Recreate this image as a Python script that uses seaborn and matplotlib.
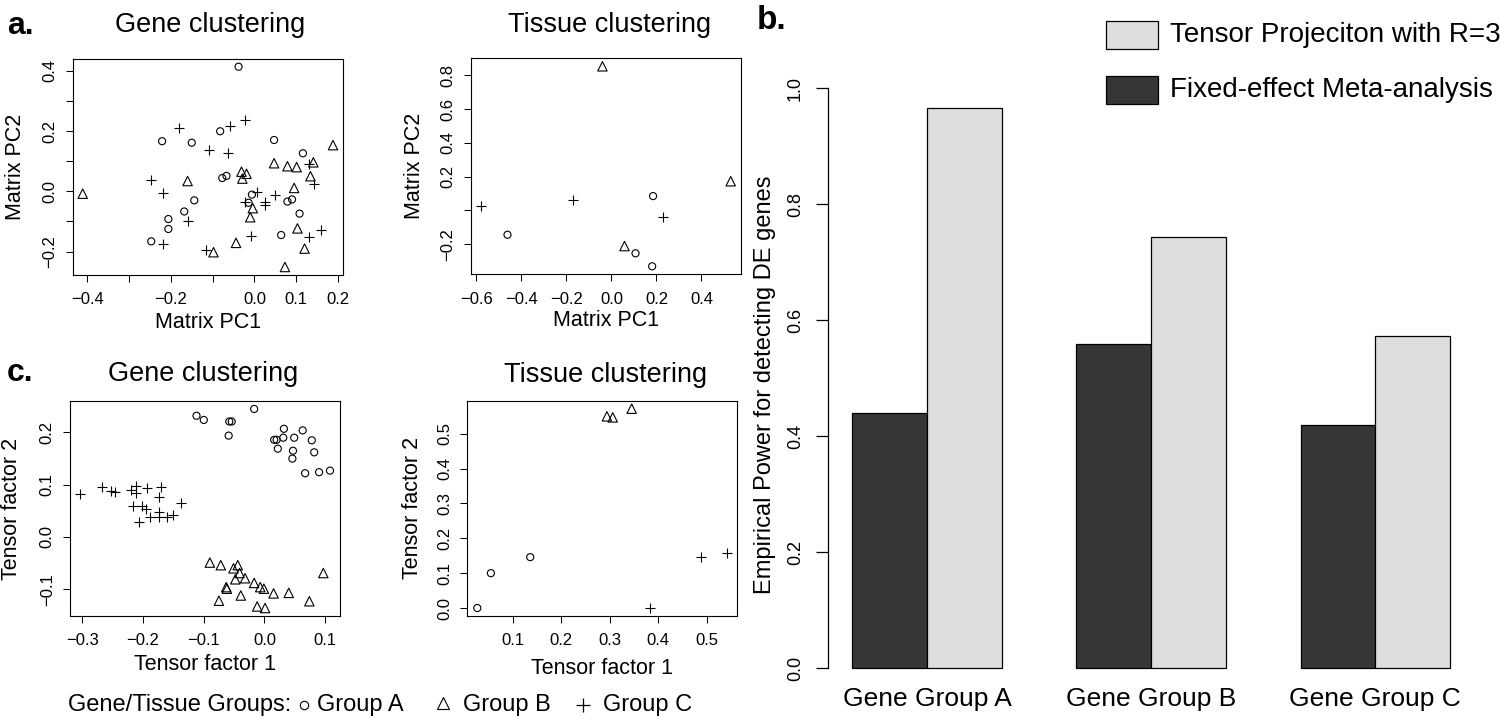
import numpy as np
import pandas as pd
import matplotlib
matplotlib.use("Agg")
import matplotlib.pyplot as plt
import seaborn as sns
from matplotlib.patches import Rectangle

# ---------------- data ----------------
# Panel a: matrix PCA, gene clustering
geneA_pc1 = [-0.038, -0.221, -0.150, -0.082, 0.047, 0.116, -0.077, -0.067, -0.144, -0.168,
             -0.206, -0.206, -0.247, -0.006, -0.014, 0.079, 0.090, 0.108, 0.064]
geneA_pc2 = [0.413, 0.166, 0.161, 0.199, 0.170, 0.126, 0.044, 0.051, -0.030, -0.067,
             -0.092, -0.125, -0.166, -0.011, -0.038, -0.034, -0.027, -0.074, -0.145]
geneB_pc1 = [-0.411, -0.160, -0.031, -0.029, -0.019, 0.047, 0.079, 0.101, 0.141, 0.134,
             0.095, 0.188, -0.010, -0.004, -0.044, -0.098, 0.073, 0.103, 0.120]
geneB_pc2 = [-0.008, 0.034, 0.065, 0.042, 0.058, 0.093, 0.083, 0.080, 0.096, 0.050,
             0.011, 0.153, -0.086, -0.056, -0.171, -0.202, -0.251, -0.123, -0.190]
geneC_pc1 = [-0.181, -0.058, -0.022, -0.109, -0.064, -0.248, -0.219, -0.158, -0.219, -0.117,
             -0.008, 0.007, -0.023, 0.025, 0.026, 0.049, 0.130, 0.142, 0.130, 0.160]
geneC_pc2 = [0.210, 0.215, 0.235, 0.137, 0.126, 0.037, -0.007, -0.097, -0.174, -0.194,
             -0.149, -0.002, -0.034, -0.035, -0.046, -0.011, 0.089, 0.025, -0.152, -0.130]

# Panel a: matrix PCA, tissue clustering
tissA_pc1 = [-0.462, 0.185, 0.107, 0.181]
tissA_pc2 = [-0.144, 0.085, -0.254, -0.331]
tissB_pc1 = [-0.040, 0.058, 0.530]
tissB_pc2 = [0.854, -0.211, 0.173]
tissC_pc1 = [-0.581, -0.173, 0.228]
tissC_pc2 = [0.028, 0.061, -0.039]

# Panel c: tensor factors, gene clustering
geneA_tf1 = [-0.112, -0.100, -0.058, -0.054, -0.059, -0.017, 0.032, 0.063, 0.016, 0.020,
             0.031, 0.049, 0.078, 0.022, 0.047, 0.046, 0.082, 0.067, 0.090, 0.108]
geneA_tf2 = [0.232, 0.224, 0.221, 0.221, 0.194, 0.245, 0.207, 0.204, 0.186, 0.186,
             0.190, 0.190, 0.185, 0.169, 0.165, 0.150, 0.162, 0.122, 0.124, 0.127]
geneB_tf1 = [-0.090, -0.072, -0.051, -0.044, -0.041, -0.048, -0.032, -0.063, -0.062, -0.017,
             -0.007, -0.001, 0.015, 0.040, -0.039, -0.075, -0.012, 0.001, 0.074, 0.097]
geneB_tf2 = [-0.049, -0.054, -0.060, -0.054, -0.069, -0.081, -0.079, -0.096, -0.099, -0.088,
             -0.096, -0.099, -0.108, -0.107, -0.112, -0.122, -0.133, -0.136, -0.123, -0.069]
geneC_tf1 = [-0.304, -0.268, -0.253, -0.246, -0.220, -0.211, -0.211, -0.194, -0.170, -0.173,
             -0.217, -0.202, -0.196, -0.206, -0.189, -0.173, -0.173, -0.161, -0.150, -0.138]
geneC_tf2 = [0.082, 0.096, 0.088, 0.086, 0.090, 0.097, 0.084, 0.094, 0.096, 0.076,
             0.060, 0.059, 0.053, 0.029, 0.039, 0.048, 0.038, 0.038, 0.042, 0.065]

# Panel c: tensor factors, tissue clustering
tissA_tf1 = [0.027, 0.055, 0.136]
tissA_tf2 = [0.000, 0.100, 0.146]
tissB_tf1 = [0.294, 0.306, 0.345]
tissB_tf2 = [0.550, 0.547, 0.572]
tissC_tf1 = [0.382, 0.488, 0.542]
tissC_tf2 = [0.000, 0.145, 0.158]

# Panel b: empirical power
bar_groups = ["Gene Group A", "Gene Group B", "Gene Group C"]
methods = ["Fixed-effect Meta-analysis", "Tensor Projeciton with R=3"]
power_fixed = [0.440, 0.560, 0.420]
power_tensor = [0.966, 0.744, 0.573]

group_labels = ["Group A", "Group B", "Group C"]

# ---------------- style ----------------
sns.set_style("white")
plt.rcParams["font.family"] = ["Liberation Sans", "DejaVu Sans"]
plt.rcParams["axes.unicode_minus"] = True
for k in ["text.color", "axes.labelcolor", "xtick.color", "ytick.color", "axes.edgecolor"]:
    plt.rcParams[k] = "black"

W, H = 1500, 719
fig = plt.figure(figsize=(W / 100, H / 100), dpi=100)
fig.patch.set_facecolor("white")

M = "\u2212"


def add_axes_px(L, R, T, B):
    return fig.add_axes([L / W, 1 - B / H, (R - L) / W, (B - T) / H])


def pad_limits(vals, frac=0.04):
    lo, hi = min(vals), max(vals)
    d = (hi - lo) * frac
    return lo - d, hi + d


def fmt(v):
    s = f"{abs(v):.1f}"
    return (M + s) if v < -1e-9 else s


MK = {0: ("o", 26), 1: ("^", 46), 2: ("+", 58)}


def scatter_panel(box, xs, ys, xticks, xshow, yticks, yshow, xlabel, ylabel,
                  title, title_xy, xlab_y, ylab_x):
    L, R, T, B = box
    ax = add_axes_px(L, R, T, B)
    for i, (gx, gy) in enumerate(zip(xs, ys)):
        df = pd.DataFrame({"x": gx, "y": gy})
        m, s = MK[i]
        if m == "+":
            sns.scatterplot(data=df, x="x", y="y", marker="+", s=s, color="black",
                            linewidth=0.8, ax=ax)
        else:
            sns.scatterplot(data=df, x="x", y="y", marker=m, s=s, facecolor="none",
                            edgecolor="black", linewidth=0.8, ax=ax)
    allx = [v for g in xs for v in g]
    ally = [v for g in ys for v in g]
    ax.set_xlim(pad_limits(allx))
    ax.set_ylim(pad_limits(ally))
    ax.set_xticks(xticks)
    ax.set_xticklabels([fmt(v) if sh else "" for v, sh in zip(xticks, xshow)], fontsize=12)
    ax.set_yticks(yticks)
    ax.set_yticklabels([fmt(v) if sh else "" for v, sh in zip(yticks, yshow)], fontsize=12,
                       rotation=90, va="center")
    ax.tick_params(axis="x", direction="out", length=5, width=0.75, pad=7.5, bottom=True, colors="black")
    ax.tick_params(axis="y", direction="out", length=5, width=0.75, pad=6, left=True, colors="black")
    for sp in ax.spines.values():
        sp.set_visible(True)
        sp.set_linewidth(0.8)
        sp.set_color("black")
    ax.set_xlabel(xlabel, fontsize=15.5)
    ax.set_ylabel(ylabel, fontsize=15.5)
    ax.xaxis.set_label_coords(0.5, (B - xlab_y) / (B - T))
    ax.xaxis.label.set_va("center")
    ax.yaxis.set_label_coords((ylab_x - L) / (R - L), 0.5)
    ax.yaxis.label.set_va("center")
    fig.text(title_xy[0] / W, 1 - title_xy[1] / H, title, fontsize=19.5,
             ha="center", va="center")
    return ax


# Panel a, left
scatter_panel((72.7, 343.0, 58.7, 275.0),
              [geneA_pc1, geneB_pc1, geneC_pc1], [geneA_pc2, geneB_pc2, geneC_pc2],
              [-0.4, -0.3, -0.2, -0.1, 0.0, 0.1, 0.2], [1, 0, 1, 0, 1, 1, 1],
              [-0.2, -0.1, 0.0, 0.1, 0.2, 0.3, 0.4], [1, 0, 1, 0, 1, 0, 1],
              "Matrix PC1", "Matrix PC2", "Gene clustering", (210, 25), 323, 16)

# Panel a, right
scatter_panel((470.7, 740.7, 58.3, 274.3),
              [tissA_pc1, tissB_pc1, tissC_pc1], [tissA_pc2, tissB_pc2, tissC_pc2],
              [-0.6, -0.4, -0.2, 0.0, 0.2, 0.4], [1, 1, 1, 1, 1, 1],
              [-0.2, 0.0, 0.2, 0.4, 0.6, 0.8], [1, 0, 1, 1, 1, 1],
              "Matrix PC1", "Matrix PC2", "Tissue clustering", (610, 25), 321, 415)

# Panel c, left
scatter_panel((70.0, 340.0, 401.0, 616.0),
              [geneA_tf1, geneB_tf1, geneC_tf1], [geneA_tf2, geneB_tf2, geneC_tf2],
              [-0.3, -0.2, -0.1, 0.0, 0.1], [1, 1, 1, 1, 1],
              [-0.1, 0.0, 0.1, 0.2], [1, 1, 1, 1],
              "Tensor factor 1", "Tensor factor 2", "Gene clustering", (203, 374), 665, 12)

# Panel c, right
scatter_panel((467.3, 737.3, 400.7, 616.0),
              [tissA_tf1, tissB_tf1, tissC_tf1], [tissA_tf2, tissB_tf2, tissC_tf2],
              [0.1, 0.2, 0.3, 0.4, 0.5], [1, 1, 1, 1, 1],
              [0.0, 0.1, 0.2, 0.3, 0.4, 0.5], [1, 1, 1, 1, 1, 1],
              "Tensor factor 1", "Tensor factor 2", "Tissue clustering", (606, 375), 668, 413)

# ---------------- Panel b: bars ----------------
axb = add_axes_px(828.3, 1474.0, 65.1, 691.5)
bar_df = pd.DataFrame({
    "group": bar_groups * 2,
    "method": [methods[0]] * 3 + [methods[1]] * 3,
    "power": power_fixed + power_tensor,
})
sns.barplot(data=bar_df, x="group", y="power", hue="method", order=bar_groups,
            hue_order=methods, palette=["#363636", "#DEDEDE"], width=2 / 3,
            saturation=1, edgecolor="black", linewidth=0.9, legend=False, ax=axb)
n = len(bar_groups)
axb.set_xlim(pad_limits([-1 / 3, (n - 1) + 1 / 3]))
axb.set_ylim(pad_limits([0.0, 1.0]))
for k in ["top", "right", "bottom"]:
    axb.spines[k].set_visible(False)
axb.spines["left"].set_bounds(0, 1)
axb.spines["left"].set_linewidth(0.9)
axb.spines["left"].set_color("black")
yt = [0.0, 0.2, 0.4, 0.6, 0.8, 1.0]
axb.set_yticks(yt)
axb.set_yticklabels([f"{v:.1f}" for v in yt], rotation=90, va="center", fontsize=13)
axb.tick_params(axis="y", direction="out", length=8.6, width=0.9, pad=9, left=True, colors="black")
axb.set_xticks(range(n))
axb.set_xticklabels(bar_groups, fontsize=19)
axb.tick_params(axis="x", length=0, pad=-3.5)
axb.set_xlabel("")
axb.set_ylabel("Empirical Power for detecting DE genes", fontsize=17)
axb.yaxis.set_label_coords((765 - 828.3) / (1474.0 - 828.3), 0.49)
axb.yaxis.label.set_va("center")
axb.grid(False)

# ---------------- overlay: panel letters & legends ----------------
ov = fig.add_axes([0, 0, 1, 1], zorder=10)
ov.set_xlim(0, W)
ov.set_ylim(H, 0)
ov.axis("off")
ov.patch.set_alpha(0)

ov.text(7, 34, "a.", fontsize=23, fontweight="bold", va="baseline", ha="left")
ov.text(7, 381, "c.", fontsize=23, fontweight="bold", va="baseline", ha="left")
ov.text(757, 29, "b.", fontsize=24, fontweight="bold", va="baseline", ha="left")

# bar legend
leg_cols = ["#DEDEDE", "#363636"]
leg_txt = [methods[1], methods[0]]
for i, (c, t) in enumerate(zip(leg_cols, leg_txt)):
    y0 = 21 + i * 55
    ov.add_patch(Rectangle((1106, y0), 52, 28, facecolor=c, edgecolor="black", linewidth=0.9))
    ov.text(1170, y0 + 14, t, fontsize=20, va="center", ha="left")

# group legend at bottom
ly = 705
ov.text(68, ly, "Gene/Tissue Groups:", fontsize=17, va="center", ha="left")
ov.plot([304], [ly], marker="o", ms=6, mfc="none", mec="black", mew=0.8, ls="none")
ov.text(317, ly, group_labels[0], fontsize=17, va="center", ha="left")
ov.plot([443], [ly - 2], marker="^", ms=8.5, mfc="none", mec="black", mew=0.8, ls="none")
ov.text(463, ly, group_labels[1], fontsize=17, va="center", ha="left")
ov.plot([583], [ly], marker="+", ms=10, mec="black", mew=0.9, ls="none")
ov.text(603, ly, group_labels[2], fontsize=17, va="center", ha="left")

fig.savefig("out.png", dpi=100, facecolor="white")
